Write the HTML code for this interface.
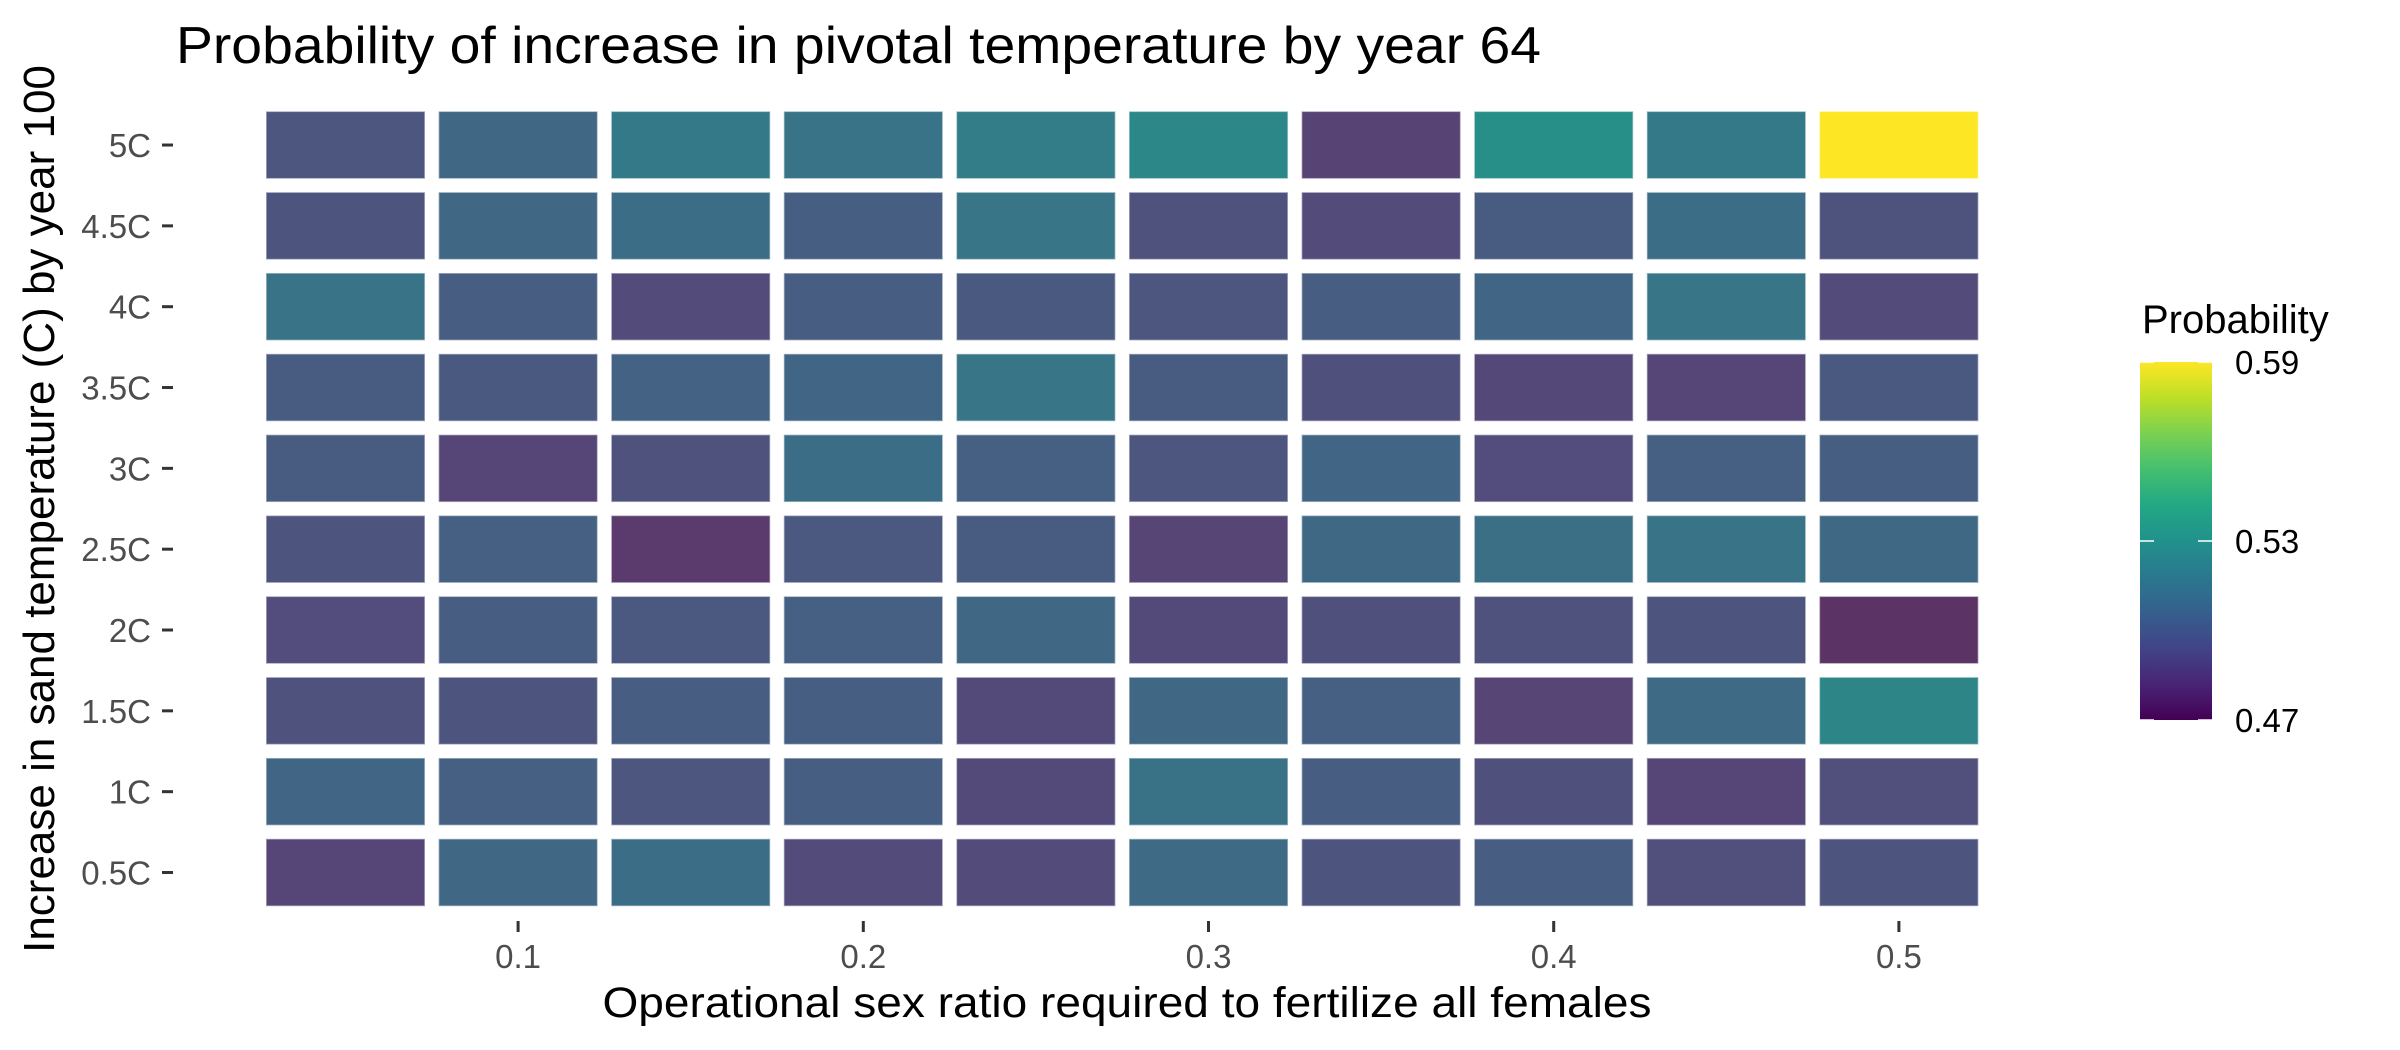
<!DOCTYPE html>
<html><head><meta charset="utf-8"><style>
html,body{margin:0;padding:0;background:#fff}
svg{display:block;font-family:"Liberation Sans",Arial,sans-serif}
</style></head><body>
<svg id="chart" width="2400" height="1050" viewBox="0 0 2400 1050" xmlns="http://www.w3.org/2000/svg">
<defs>
<linearGradient id="vgrad" x1="0" y1="1" x2="0" y2="0">
<stop offset="0" stop-color="#440154"/><stop offset="0.1" stop-color="#482475"/><stop offset="0.2" stop-color="#414487"/><stop offset="0.3" stop-color="#355f8d"/><stop offset="0.4" stop-color="#2a788e"/><stop offset="0.5" stop-color="#21918c"/><stop offset="0.6" stop-color="#22a884"/><stop offset="0.7" stop-color="#44bf70"/><stop offset="0.8" stop-color="#7ad151"/><stop offset="0.9" stop-color="#bddf26"/><stop offset="1" stop-color="#fde725"/>
</linearGradient>
</defs>
<text x="176" y="63" font-size="52" fill="#000" textLength="1365" lengthAdjust="spacingAndGlyphs">Probability of increase in pivotal temperature by year 64</text>
<g id="cells"></g>
<g id="yaxis"></g>
<g id="xaxis"></g>
<text transform="translate(54,509) rotate(-90)" text-anchor="middle" font-size="44" fill="#000">Increase in sand temperature (C) by year 100</text>
<text x="1127" y="1017" text-anchor="middle" font-size="43" fill="#000" textLength="1049" lengthAdjust="spacingAndGlyphs">Operational sex ratio required to fertilize all females</text>
<g id="legend">
<text x="2142" y="333" font-size="40" fill="#000">Probability</text>
<rect x="2140" y="362" width="72" height="358" fill="url(#vgrad)"/>
</g>
</svg>
<script>
const xCats = [0.05,0.1,0.15,0.2,0.25,0.3,0.35,0.4,0.45,0.5];
const yCats = ["0.5C","1C","1.5C","2C","2.5C","3C","3.5C","4C","4.5C","5C"];
const xTicks = [0.1,0.2,0.3,0.4,0.5];
const xTickLabels = ["0.1","0.2","0.3","0.4","0.5"];
const legendTicks = [0.47,0.53,0.59];
const legendLabels = ["0.47","0.53","0.59"];
const colorMin = 0.47, colorMax = 0.59;
// rows listed from 0.5C (bottom) to 5C (top); columns 0.05..0.5
const row05 = [0.490,0.510,0.514,0.493,0.493,0.512,0.499,0.504,0.495,0.499];
const row10 = [0.509,0.506,0.500,0.505,0.492,0.516,0.504,0.496,0.490,0.495];
const row15 = [0.497,0.499,0.504,0.505,0.492,0.510,0.506,0.489,0.512,0.526];
const row20 = [0.494,0.504,0.501,0.506,0.510,0.492,0.496,0.497,0.499,0.477];
const row25 = [0.499,0.506,0.482,0.501,0.503,0.489,0.511,0.515,0.517,0.511];
const row30 = [0.503,0.490,0.497,0.514,0.506,0.500,0.509,0.494,0.506,0.505];
const row35 = [0.503,0.502,0.507,0.509,0.518,0.503,0.496,0.491,0.490,0.502];
const row40 = [0.517,0.504,0.493,0.504,0.502,0.500,0.504,0.509,0.518,0.493];
const row45 = [0.499,0.510,0.514,0.505,0.518,0.497,0.493,0.503,0.514,0.498];
const row50 = [0.500,0.510,0.520,0.517,0.522,0.527,0.488,0.531,0.520,0.590];
const rows = [row05,row10,row15,row20,row25,row30,row35,row40,row45,row50];

const NS = "http://www.w3.org/2000/svg";
const xPitch = 172.6, yPitch = 80.83;
function xScale(v){ return 345.5 + (v - 0.05) / 0.05 * xPitch; }
function yScale(i){ return 872.5 - i * yPitch; }
function legendY(v){ return 720 - (v - colorMin) / (colorMax - colorMin) * 358; }
const vir = [[68,1,84],[72,36,117],[65,68,135],[53,95,141],[42,120,142],[33,145,140],[34,168,132],[68,191,112],[122,209,81],[189,223,38],[253,231,37]];
function colorOf(v){
  let t = Math.max(0, Math.min(1, (v - colorMin) / (colorMax - colorMin)));
  let p = t * 10, i = Math.min(9, Math.floor(p)), f = p - i;
  let c = vir[i].map((a, k) => a + (vir[i+1][k] - a) * f);
  const w = Math.max(0, 0.42 * (1 - 1.6 * t));
  const g = [125, 100, 95];
  c = c.map((a, k) => Math.round(a * (1 - w) + g[k] * w));
  return "rgb(" + c.join(",") + ")";
}
function mk(tag, attrs, parent){
  const el = document.createElementNS(NS, tag);
  for (const k in attrs) el.setAttribute(k, attrs[k]);
  parent.appendChild(el);
  return el;
}
const cells = document.getElementById("cells");
rows.forEach((row, ri) => {
  row.forEach((v, ci) => {
    const cx = xScale(xCats[ci]), cy = yScale(ri);
    const r = mk("rect", {x: cx - 79.5, y: cy - 33.7, width: 159, height: 67.4, fill: colorOf(v), stroke: "rgba(255,255,255,0.5)", "stroke-width": 1.5}, cells);
    
    
  });
});
const yaxis = document.getElementById("yaxis");
yCats.forEach((lab, i) => {
  const y = yScale(i);
  const t = mk("text", {x: 151, y: y + 12, "text-anchor": "end", "font-size": 33, fill: "#4d4d4d"}, yaxis);
  t.textContent = lab;
  
  
  const l = mk("line", {x1: 162, x2: 173, y1: y, y2: y, stroke: "#333", "stroke-width": 3}, yaxis);
  
  
});
const xaxis = document.getElementById("xaxis");
xTicks.forEach((v, i) => {
  const x = xScale(v);
  const l = mk("line", {x1: x, x2: x, y1: 921, y2: 932, stroke: "#333", "stroke-width": 3}, xaxis);
  
  
  const t = mk("text", {x: x, y: 968, "text-anchor": "middle", "font-size": 33, fill: "#4d4d4d"}, xaxis);
  t.textContent = xTickLabels[i];
  
  
});
const legend = document.getElementById("legend");
legendTicks.forEach((v, i) => {
  const y = legendY(v);
  const a = mk("line", {x1: 2140, x2: 2154, y1: y, y2: y, stroke: "#fff", "stroke-width": 1.5}, legend);
  
  
  const b = mk("line", {x1: 2198, x2: 2212, y1: y, y2: y, stroke: "#fff", "stroke-width": 1.5}, legend);
  
  
  const t = mk("text", {x: 2235, y: y + 12, "font-size": 33, fill: "#000"}, legend);
  t.textContent = legendLabels[i];
  
  
});
</script>
</body></html>
